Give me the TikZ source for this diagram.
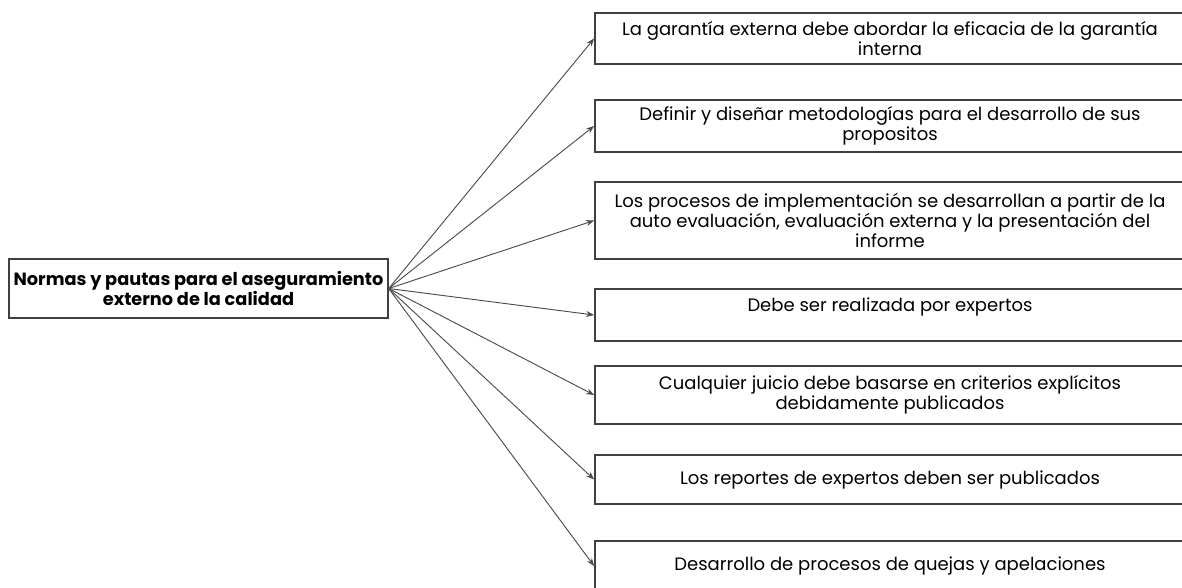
\documentclass[tikz,border=0pt]{standalone}
\usepackage{fontspec}
\setmainfont{Poppins}
\usetikzlibrary{arrows.meta}

\tikzset{
	itembox/.style={draw=black!75, line width=1.3pt, align=center, inner sep=2pt,
		minimum width=442.5pt, font=\fontsize{13.5}{15}\selectfont},
	rootbox/.style={draw=black!75, line width=1.3pt, align=center, inner sep=2pt,
		minimum width=284pt, minimum height=44pt, font=\bfseries\fontsize{13.3}{15}\selectfont},
	link/.style={draw=black!70, line width=0.7pt, -{Stealth[length=6pt,width=4.5pt]}}
}

\begin{document}
\begin{tikzpicture}[x=0.75pt, y=-0.75pt]
		%%%%% START %%%%%
		
		\useasboundingbox (0, 0) rectangle (1182, 587);
		\clip (0, 0) rectangle (1182, 587);
		
		\node[rootbox] (root) at (198.5, 288.5) {Normas y pautas para el aseguramiento\\externo de la calidad};
		
		\node[itembox, minimum height=38.5pt] (b1) at (890, 38.5) {La garantía externa debe abordar la eficacia de la garantía\\interna};
		\node[itembox, minimum height=39pt] (b2) at (890, 126) {Definir y diseñar metodologías para el desarrollo de sus\\propositos};
		\node[itembox, minimum height=58pt] (b3) at (890, 220.5) {Los procesos de implementación se desarrollan a partir de la\\auto evaluación, evaluación externa y la presentación del\\informe};
		\node[itembox, minimum height=39pt] (b4) at (890, 315) {Debe ser realizada por expertos\\\mbox{}};
		\node[itembox, minimum height=43.5pt] (b5) at (890, 395) {Cualquier juicio debe basarse en criterios explícitos\\debidamente publicados};
		\node[itembox, minimum height=37pt] (b6) at (890, 479.5) {Los reportes de expertos deben ser publicados};
		\node[itembox, minimum height=37pt] (b7) at (890, 566) {Desarrollo de procesos de quejas y apelaciones};
		
		\foreach \b in {b1, b2, b3, b4, b5, b6, b7}
			\draw[link] (root.east) -- (\b.west);
		
		%%%%% END %%%%%
	\end{tikzpicture}
\end{document}
